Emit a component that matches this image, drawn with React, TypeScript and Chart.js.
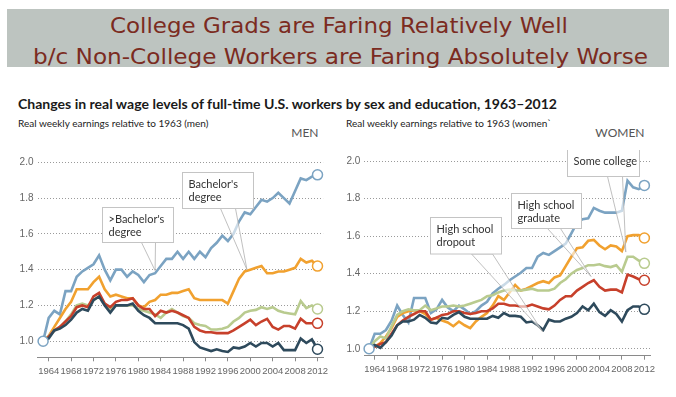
import React, { useEffect, useLayoutEffect, useRef } from "react";
import { Chart, registerables } from "chart.js";
Chart.register(...registerables);

// ---------- DATA ----------
const years = [
  1963, 1964, 1965, 1966, 1967, 1968, 1969, 1970, 1971, 1972,
  1973, 1974, 1975, 1976, 1977, 1978, 1979, 1980, 1981, 1982,
  1983, 1984, 1985, 1986, 1987, 1988, 1989, 1990, 1991, 1992,
  1993, 1994, 1995, 1996, 1997, 1998, 1999, 2000, 2001, 2002,
  2003, 2004, 2005, 2006, 2007, 2008, 2009, 2010, 2011, 2012,
];
const xTickYears = [1964, 1968, 1972, 1976, 1980, 1984, 1988, 1992, 1996, 2000, 2004, 2008, 2012];
const yTickValues = [1.0, 1.2, 1.4, 1.6, 1.8, 2.0];

// Men
const menAboveBachelors = [
  1.0, 1.13, 1.17, 1.15, 1.28, 1.28, 1.36, 1.39, 1.41, 1.43,
  1.48, 1.4, 1.34, 1.4, 1.4, 1.36, 1.39, 1.37, 1.33, 1.37,
  1.38, 1.42, 1.46, 1.46, 1.5, 1.46, 1.5, 1.46, 1.5, 1.47,
  1.52, 1.55, 1.59, 1.56, 1.6, 1.67, 1.72, 1.71, 1.75, 1.79,
  1.78, 1.8, 1.83, 1.8, 1.77, 1.84, 1.91, 1.9, 1.92, 1.93,
];
const menBachelors = [
  1.0, 1.03, 1.08, 1.13, 1.18, 1.22, 1.29, 1.29, 1.29, 1.33,
  1.36, 1.29, 1.25, 1.26, 1.25, 1.24, 1.24, 1.2, 1.19, 1.22,
  1.23, 1.26, 1.26, 1.27, 1.27, 1.28, 1.29, 1.24, 1.23, 1.23,
  1.23, 1.23, 1.23, 1.21, 1.28, 1.35, 1.39, 1.4, 1.41, 1.42,
  1.38, 1.38, 1.39, 1.39, 1.4, 1.41, 1.46, 1.44, 1.45, 1.42,
];
const menSomeCollege = [
  1.0, 1.03, 1.06, 1.08, 1.11, 1.15, 1.2, 1.21, 1.2, 1.23,
  1.25, 1.21, 1.18, 1.2, 1.2, 1.2, 1.2, 1.18, 1.17, 1.16,
  1.15, 1.13, 1.16, 1.18, 1.16, 1.14, 1.13, 1.1, 1.09, 1.085,
  1.065, 1.065, 1.07, 1.08, 1.11, 1.13, 1.16, 1.17, 1.175, 1.19,
  1.18, 1.19, 1.17, 1.16, 1.155, 1.15, 1.225, 1.185, 1.2, 1.18,
];
const menHSGrad = [
  1.0, 1.025, 1.06, 1.08, 1.11, 1.14, 1.19, 1.2, 1.19, 1.25,
  1.27, 1.21, 1.19, 1.22, 1.23, 1.23, 1.24, 1.2, 1.18, 1.18,
  1.14, 1.17, 1.16, 1.17, 1.16, 1.145, 1.13, 1.08, 1.06, 1.05,
  1.05, 1.045, 1.045, 1.045, 1.06, 1.08, 1.1, 1.12, 1.09, 1.11,
  1.125, 1.08, 1.065, 1.085, 1.085, 1.07, 1.125, 1.1, 1.1, 1.1,
];
const menHSDropout = [
  1.0, 1.015, 1.06, 1.07, 1.09, 1.12, 1.16, 1.18, 1.17, 1.23,
  1.25, 1.2, 1.16, 1.2, 1.2, 1.2, 1.21, 1.17, 1.145, 1.13,
  1.1, 1.1, 1.1, 1.1, 1.1, 1.09, 1.07, 0.995, 0.965, 0.955,
  0.945, 0.955, 0.945, 0.94, 0.965, 0.96, 0.97, 0.99, 0.97, 0.99,
  0.99, 0.97, 0.99, 0.95, 0.95, 0.95, 1.015, 0.99, 1.01, 0.955,
];

// Women
const womenAboveBachelors = [
  1.0, 1.08, 1.08, 1.1, 1.15, 1.23, 1.18, 1.14, 1.27, 1.27,
  1.27, 1.19, 1.21, 1.26, 1.22, 1.2, 1.23, 1.21, 1.185, 1.2,
  1.23, 1.25, 1.295, 1.32, 1.34, 1.365, 1.385, 1.405, 1.43, 1.43,
  1.49, 1.51, 1.5, 1.52, 1.54, 1.56, 1.615, 1.67, 1.69, 1.695,
  1.75, 1.735, 1.725, 1.725, 1.725, 1.735, 1.895, 1.86, 1.85, 1.87,
];
const womenBachelors = [
  1.0, 1.01, 1.03, 1.065, 1.11, 1.17, 1.19, 1.2, 1.205, 1.2,
  1.185, 1.155, 1.165, 1.15, 1.14, 1.12, 1.145, 1.125, 1.11, 1.145,
  1.17, 1.19, 1.23, 1.28, 1.26, 1.3, 1.34, 1.31, 1.32, 1.335,
  1.35, 1.36, 1.35, 1.38, 1.39, 1.44, 1.49, 1.535, 1.54, 1.575,
  1.58, 1.55, 1.53, 1.55, 1.545, 1.52, 1.6, 1.605, 1.605, 1.59,
];
const womenSomeCollege = [
  1.0, 1.04, 1.065, 1.055, 1.12, 1.18, 1.2, 1.21, 1.205, 1.205,
  1.23, 1.205, 1.215, 1.225, 1.225, 1.23, 1.225, 1.23, 1.24, 1.25,
  1.26, 1.28, 1.285, 1.3, 1.31, 1.315, 1.31, 1.31, 1.315, 1.32,
  1.31, 1.31, 1.31, 1.32, 1.35, 1.37, 1.4, 1.42, 1.43, 1.445,
  1.445, 1.45, 1.44, 1.435, 1.445, 1.41, 1.49, 1.49, 1.47, 1.455,
];
const womenHSGrad = [
  1.0, 1.01, 1.025, 1.035, 1.08, 1.125, 1.15, 1.17, 1.185, 1.2,
  1.2, 1.155, 1.165, 1.18, 1.185, 1.2, 1.2, 1.19, 1.185, 1.19,
  1.2, 1.2, 1.215, 1.24, 1.24, 1.23, 1.23, 1.225, 1.225, 1.235,
  1.225, 1.215, 1.21, 1.23, 1.26, 1.28, 1.28, 1.31, 1.33, 1.35,
  1.365, 1.33, 1.31, 1.315, 1.315, 1.3, 1.395, 1.385, 1.37, 1.365,
];
const womenHSDropout = [
  1.0, 1.02, 1.005, 1.035, 1.07, 1.125, 1.145, 1.145, 1.155, 1.18,
  1.165, 1.14, 1.135, 1.165, 1.16, 1.18, 1.195, 1.17, 1.16, 1.16,
  1.16, 1.16, 1.175, 1.165, 1.19, 1.175, 1.175, 1.17, 1.14, 1.145,
  1.125, 1.1, 1.155, 1.145, 1.145, 1.16, 1.17, 1.19, 1.225, 1.205,
  1.24, 1.195, 1.175, 1.205, 1.185, 1.145, 1.205, 1.225, 1.225, 1.21,
];

// ---------- STYLE ----------
const COLORS = {
  above: "#7ba3c2",
  bach: "#f1a12f",
  some: "#b9cb8f",
  hsg: "#c7402b",
  drop: "#2e4a5c",
};

type Callout = {
  lines: string[];
  boxYear: number;
  boxValue: number;
  w: number;
  h: number;
  baseA: number;
  baseB: number;
  tipYear: number;
  tipValue: number;
};

const menCallouts: Callout[] = [
  { lines: [">Bachelor's", "degree"], boxYear: 1973.46, boxValue: 1.75, w: 71, h: 35, baseA: 39, baseB: 53, tipYear: 1983, tipValue: 1.395 },
  { lines: ["Bachelor's", "degree"], boxYear: 1987.75, boxValue: 1.947, w: 71, h: 36, baseA: 38, baseB: 53, tipYear: 1999.4, tipValue: 1.4 },
];
const womenCallouts: Callout[] = [
  { lines: ["High school", "dropout"], boxYear: 1973.84, boxValue: 1.703, w: 71, h: 36.5, baseA: 41, baseB: 62, tipYear: 1993.9, tipValue: 1.09 },
  { lines: ["High school", "graduate"], boxYear: 1988.3, boxValue: 1.828, w: 70, h: 35, baseA: 36, baseB: 49, tipYear: 2002.5, tipValue: 1.385 },
  { lines: ["Some college"], boxYear: 1998.2, boxValue: 2.064, w: 72, h: 27, baseA: 40, baseB: 55, tipYear: 2008.7, tipValue: 1.515 },
];

function pickTickFont() {
  try {
    const c = document.createElement("canvas").getContext("2d")!;
    c.font = "11px 'Liberation Sans Narrow', monospace";
    const a = c.measureText("1964 abcW").width;
    c.font = "11px monospace";
    const b = c.measureText("1964 abcW").width;
    if (Math.abs(a - b) > 0.5) return { family: "'Liberation Sans Narrow'", size: 11 };
  } catch (e) {}
  return { family: "'Liberation Sans'", size: 9.5 };
}

function makeCalloutPlugin(callouts: Callout[]) {
  return {
    id: "callouts",
    afterDatasetsDraw(chart: any) {
      const ctx = chart.ctx;
      const xs = chart.scales.x;
      const ys = chart.scales.y;
      ctx.save();
      for (const c of callouts) {
        const x0 = Math.round(xs.getPixelForValue(c.boxYear)) + 0.5;
        const y0 = Math.round(ys.getPixelForValue(c.boxValue)) + 0.5;
        const tx = xs.getPixelForValue(c.tipYear);
        const ty = ys.getPixelForValue(c.tipValue);
        ctx.beginPath();
        ctx.moveTo(x0 + c.baseA, y0 + c.h);
        ctx.lineTo(tx, ty);
        ctx.lineTo(x0 + c.baseB, y0 + c.h);
        ctx.closePath();
        ctx.fillStyle = "rgba(255,255,255,0.6)";
        ctx.fill();
        ctx.strokeStyle = "#b0b0b0";
        ctx.lineWidth = 0.8;
        ctx.stroke();
        ctx.fillStyle = "#ffffff";
        ctx.fillRect(x0, y0, c.w, c.h);
        ctx.strokeStyle = "#c4c4c4";
        ctx.lineWidth = 1;
        ctx.strokeRect(x0, y0, c.w, c.h);
        ctx.fillStyle = "#333333";
        ctx.font = "11px Lato";
        ctx.textBaseline = "alphabetic";
        ctx.textAlign = "left";
        c.lines.forEach((t, i) => ctx.fillText(t, x0 + 6, y0 + 15 + i * 13.5));
      }
      ctx.restore();
    },
  };
}

type PanelCfg = {
  xMin: number;
  xMax: number;
  yMin: number;
  yMax: number;
  padTop: number;
  padRight: number;
  yWidth: number;
  xHeight: number;
  series: number[][];
  callouts: Callout[];
};

function Panel({ cfg, left }: { cfg: PanelCfg; left: number }) {
  const ref = useRef<HTMLCanvasElement | null>(null);
  useEffect(() => {
    if (!ref.current) return;
    const tickFont = pickTickFont();
    const [above, bach, some, hsg, drop] = cfg.series;
    const last = years.length - 1;
    const mk = (data: number[], color: string, withStart: boolean) => ({
      data: years.map((y, i) => ({ x: y, y: data[i] })),
      borderColor: color,
      borderWidth: 2.6,
      tension: 0,
      clip: false as any,
      pointRadius: (c: any) => (c.dataIndex === last || (withStart && c.dataIndex === 0) ? 5 : 0),
      pointHoverRadius: 0,
      pointBackgroundColor: "#ffffff",
      pointBorderColor: (c: any) => (c.dataIndex === 0 ? COLORS.above : color),
      pointBorderWidth: 1.5,
    });
    const chart = new Chart(ref.current, {
      type: "line",
      data: {
        datasets: [
          mk(drop, COLORS.drop, true),
          mk(hsg, COLORS.hsg, false),
          mk(some, COLORS.some, false),
          mk(bach, COLORS.bach, false),
          mk(above, COLORS.above, false),
        ],
      },
      options: {
        animation: false,
        responsive: false,
        devicePixelRatio: 1,
        layout: { padding: { top: cfg.padTop, right: cfg.padRight, left: 0, bottom: 0 } },
        plugins: { legend: { display: false }, tooltip: { enabled: false } },
        scales: {
          x: {
            type: "linear",
            min: cfg.xMin,
            max: cfg.xMax,
            afterBuildTicks: (s: any) => {
              s.ticks = xTickYears.map((v) => ({ value: v }));
            },
            afterFit: (s: any) => {
              s.height = cfg.xHeight;
            },
            ticks: {
              autoSkip: false,
              maxRotation: 0,
              padding: 4,
              color: "#666666",
              font: { family: tickFont.family, size: tickFont.size },
              callback: (v: any) => String(v),
            },
            grid: { drawOnChartArea: false, drawTicks: true, tickLength: 4, color: "#8a8a8a" },
            border: { display: true, color: "#8a8a8a", width: 1 },
          },
          y: {
            type: "linear",
            min: cfg.yMin,
            max: cfg.yMax,
            afterBuildTicks: (s: any) => {
              s.ticks = yTickValues.map((v) => ({ value: v }));
            },
            afterFit: (s: any) => {
              s.width = cfg.yWidth;
            },
            ticks: {
              padding: 4,
              color: "#666666",
              font: { family: "'Liberation Sans'", size: 10 },
              callback: (v: any) => Number(v).toFixed(1),
            },
            grid: { drawTicks: false, color: "#9a9a9a", lineWidth: 1 },
            border: { display: false, dash: [1, 2] },
          },
        },
      },
      plugins: [makeCalloutPlugin(cfg.callouts)],
    } as any);
    return () => chart.destroy();
  }, []);
  return (
    <canvas
      ref={ref}
      width={338}
      height={240}
      style={{ position: "absolute", left, top: 150, width: 338, height: 240 }}
    />
  );
}

const menCfg: PanelCfg = {
  xMin: 1962,
  xMax: 2013,
  yMin: 0.91,
  yMax: 2.0,
  padTop: 12.3,
  padRight: 14.9,
  yWidth: 37.5,
  xHeight: 32.7,
  series: [menAboveBachelors, menBachelors, menSomeCollege, menHSGrad, menHSDropout],
  callouts: menCallouts,
};
const womenCfg: PanelCfg = {
  xMin: 1962.15,
  xMax: 2013,
  yMin: 0.963,
  yMax: 2.0,
  padTop: 11,
  padRight: 26,
  yWidth: 26.3,
  xHeight: 34.3,
  series: [womenAboveBachelors, womenBachelors, womenSomeCollege, womenHSGrad, womenHSDropout],
  callouts: womenCallouts,
};

// Text stretched horizontally to span [x0, x1]
function FitText({ x0, x1, top, style, children }: { x0: number; x1: number; top: number; style: React.CSSProperties; children: React.ReactNode }) {
  const ref = useRef<HTMLSpanElement | null>(null);
  useLayoutEffect(() => {
    const el = ref.current;
    if (!el) return;
    el.style.transform = "none";
    const w = el.getBoundingClientRect().width;
    if (w > 0) el.style.transform = `scaleX(${(x1 - x0) / w})`;
  }, []);
  return (
    <span
      ref={ref}
      style={{ position: "absolute", left: x0, top, whiteSpace: "nowrap", transformOrigin: "0 0", display: "inline-block", ...style }}
    >
      {children}
    </span>
  );
}

const txt = (extra: React.CSSProperties): React.CSSProperties => ({
  position: "absolute",
  whiteSpace: "nowrap",
  fontFamily: "Lato",
  ...extra,
});

export default function App() {
  const banner: React.CSSProperties = { fontFamily: "'DejaVu Sans'", fontSize: 21, lineHeight: "24px", color: "#7b2b21", fontWeight: 400 };
  return (
    <div style={{ position: "absolute", left: 0, top: 0, width: 676, height: 397, background: "#ffffff", overflow: "hidden" }}>
      <div style={{ position: "absolute", left: 7, top: 9, width: 662, height: 58, background: "#bdc4c0" }} />
      <FitText x0={110} x1={568} top={14} style={banner}>
        College Grads are Faring Relatively Well
      </FitText>
      <FitText x0={33} x1={648} top={45} style={banner}>
        b/c Non-College Workers are Faring Absolutely Worse
      </FitText>
      <FitText x0={18} x1={557} top={96} style={{ fontFamily: "Lato", fontSize: 14, lineHeight: "16.8px", fontWeight: 700, color: "#1a1a1a" }}>
        Changes in real wage levels of full-time U.S. workers by sex and education, 1963–2012
      </FitText>
      <div style={txt({ left: 18, top: 117.4, fontSize: 10, lineHeight: "12px", color: "#222" })}>
        Real weekly earnings relative to 1963 (men)
      </div>
      <div style={txt({ left: 346, top: 117.4, fontSize: 10, lineHeight: "12px", color: "#222" })}>
        Real weekly earnings relative to 1963 (women`
      </div>
      <div style={txt({ right: 676 - 318.5, top: 125.5, fontSize: 12, lineHeight: "14.4px", color: "#555" })}>MEN</div>
      <div style={txt({ right: 676 - 644.5, top: 125.5, fontSize: 12, lineHeight: "14.4px", color: "#555" })}>WOMEN</div>
      <Panel cfg={menCfg} left={0} />
      <Panel cfg={womenCfg} left={338} />
    </div>
  );
}
